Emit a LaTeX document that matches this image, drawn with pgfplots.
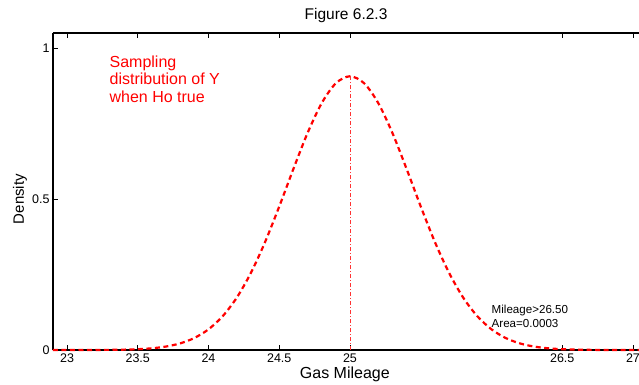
\documentclass[border=0pt]{standalone}
\usepackage{pgfplots}
\pgfplotsset{compat=1.18}
\usepackage{fontspec}
\setmainfont{Liberation Sans}
\begin{document}
\begin{tikzpicture}[x=1pt,y=1pt]
\begin{axis}[
  at={(0,0)}, anchor=south west,
  scale only axis, width=592pt, height=317pt,
  xmin=22.901, xmax=27.085, ymin=0, ymax=1.05,
  axis y line*=left,
  axis line style={line width=1.2pt},
  xtick={23,23.5,24,24.5,25,26.5,27},
  xticklabels={23,23.5,24,24.5,25,26.5,27},
  ytick={0,0.5,1},
  yticklabels={0,0.5,1},
  tick align=inside,
  major tick length=5pt,
  tick style={line width=0.8pt, black},
  xtick pos=both,
  ticklabel style={font=\fontsize{12.5}{14}\selectfont},
  /pgf/number format/assume math mode=true,
  xlabel={Gas Mileage},
  ylabel={Density},
  xlabel style={at={(axis description cs:0.493,-0.0757)}, anchor=center, font=\fontsize{16}{18}\selectfont},
  ylabel style={at={(axis description cs:-0.0557,0.476)}, anchor=center, font=\fontsize{15}{18}\selectfont},
  clip=false,
]
\addplot[red, line width=2.2pt, dash pattern=on 5pt off 3.5pt, smooth] coordinates {
(22.901,0) (23.0,0.0000) (23.1,0.0001) (23.2,0.0002) (23.3,0.0005) (23.4,0.0012)
(23.5,0.0027) (23.6,0.0057) (23.7,0.0115) (23.8,0.0220) (23.9,0.0398)
(24.0,0.0685) (24.1,0.1119) (24.2,0.1736) (24.3,0.2558) (24.4,0.3578)
(24.5,0.4754) (24.6,0.5998) (24.7,0.7187) (24.8,0.8177) (24.9,0.8836)
(25.0,0.9067) (25.1,0.8836) (25.2,0.8177) (25.3,0.7187) (25.4,0.5998)
(25.5,0.4754) (25.6,0.3578) (25.7,0.2558) (25.8,0.1736) (25.9,0.1119)
(26.0,0.0685) (26.1,0.0398) (26.2,0.0220) (26.3,0.0115) (26.4,0.0057)
(26.5,0.0027) (26.6,0.0012) (26.7,0.0005) (26.8,0.0002) (26.9,0.0001)
(27.0,0.0000) (27.085,0)
};
\addplot[red!80, line width=0.6pt, dash pattern=on 4pt off 2pt on 1pt off 2pt] coordinates {(25,0) (25,0.9067)};
\node[anchor=north west, align=left, text=red, font=\fontsize{16}{17.5}\selectfont, inner sep=0pt] at (axis cs:23.30,0.975) {Sampling\\distribution of Y\\when Ho true};
\node[anchor=north west, align=left, font=\fontsize{11.6}{14}\selectfont, inner sep=0pt] at (axis cs:26.0,0.15) {Mileage>26.50\\Area=0.0003};
\node[anchor=center, font=\fontsize{15.5}{17}\selectfont] at (axis description cs:0.495,1.0568) {Figure 6.2.3};
\end{axis}
\pgfresetboundingbox
\path (-53,-34) rectangle (586,350);
\end{tikzpicture}
\end{document}
